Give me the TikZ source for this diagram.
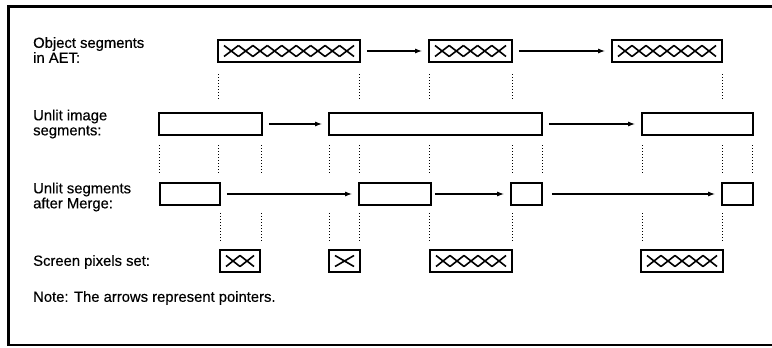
\documentclass[tikz,border=0pt]{standalone}
\usepackage{fontspec}
\setmainfont[FakeBold=0.4]{Liberation Sans}
\usetikzlibrary{arrows.meta}
\begin{document}
\begin{tikzpicture}[x=1pt,y=-1pt,
	seg/.style={draw, line width=1.7pt, minimum height=22pt, inner sep=0pt, minimum width=#1pt},
	hatch/.style 2 args={seg=#1, path picture={
		\begin{scope}[shift={(path picture bounding box.center)}, line width=1.6pt]
			\foreach \k in {1,...,#2} {
				\pgfmathsetmacro\xa{-#1/2+6+(\k-1)*(#1-12)/#2}
				\pgfmathsetmacro\xb{\xa+(#1-12)/#2}
				\draw (\xa,-5.5) -- (\xb,5.5) (\xa,5.5) -- (\xb,-5.5);
			}
		\end{scope}}},
	ptr/.style={-{Latex[length=7pt,width=5pt]}, line width=1.2pt, shorten <=6pt, shorten >=6pt},
	guide/.style={dash pattern=on 0.8pt off 2.2pt, line width=0.8pt},
	lbl/.style={anchor=west, align=left, inner sep=0pt, font=\fontsize{14.8}{15}\selectfont}]
	\useasboundingbox (0,0) rectangle (772,348);
	% frame
	\draw[line width=3pt] (772,6.5) -- (8.5,6.5) -- (8.5,345);
	\draw[line width=1.5pt] (7,345) -- (772,345);

	% labels
	\node[lbl] (l1) at (33,50) {Object segments\\in AET:};
	\node[lbl] (l2) at (33,124) {Unlit image\\segments:};
	\node[lbl] (l3) at (33,197) {Unlit segments\\after Merge:};
	\node[lbl] (l4) at (33,262) {Screen pixels set:};
	\node[lbl] (note) at (33,298) {Note: The arrows represent pointers.};

	% object segments
	\node[hatch={142}{9}] (o1) at (289,51) {};
	\node[hatch={83}{5}] (o2) at (470.5,51) {};
	\node[hatch={110}{7}] (o3) at (667,51) {};
	\draw[ptr] (o1) -- (o2);
	\draw[ptr] (o2) -- (o3);

	% unlit image segments
	\node[seg=103] (u1) at (210.5,124) {};
	\node[seg=213] (u2) at (435.5,124) {};
	\node[seg=111] (u3) at (697.5,124) {};
	\draw[ptr] (u1) -- (u2);
	\draw[ptr] (u2) -- (u3);

	% after merge
	\node[seg=60] (m1) at (190,194) {};
	\node[seg=72] (m2) at (395,194) {};
	\node[seg=31] (m3) at (526.5,194) {};
	\node[seg=31] (m4) at (737.5,194) {};
	\draw[ptr] (m1) -- (m2);
	\draw[ptr, shorten <=3pt] (m2) -- (m3);
	\draw[ptr, shorten <=9pt] (m3) -- (m4);

	% screen pixels
	\node[hatch={40}{2}] (p1) at (240,261) {};
	\node[hatch={31}{1}] (p2) at (344.5,261) {};
	\node[hatch={82}{5}] (p3) at (471,261) {};
	\node[hatch={82}{5}] (p4) at (682,261) {};

	% guides
	\foreach \x in {218,359,429,512,722}
		\draw[guide] (\x,74) -- (\x,100);
	\foreach \x in {159,218,261,329,359,429,512,542,642,722,752}
		\draw[guide] (\x,145) -- (\x,173);
	\foreach \x in {220,261,329,359,429,512,642,722}
		\draw[guide] (\x,213) -- (\x,242);
\end{tikzpicture}
\end{document}
